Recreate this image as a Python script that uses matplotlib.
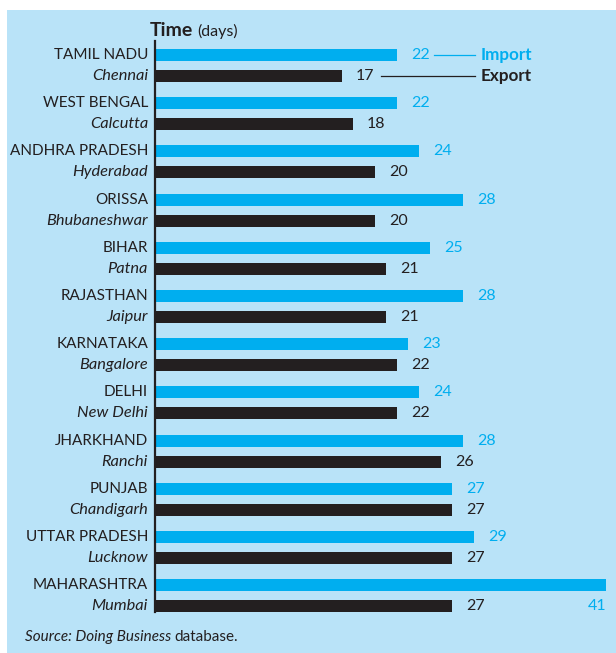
import matplotlib
matplotlib.use("Agg")
import matplotlib.pyplot as plt
from matplotlib.patches import Rectangle

states = ["TAMIL NADU", "WEST BENGAL", "ANDHRA PRADESH", "ORISSA", "BIHAR", "RAJASTHAN",
          "KARNATAKA", "DELHI", "JHARKHAND", "PUNJAB", "UTTAR PRADESH", "MAHARASHTRA"]
cities = ["Chennai", "Calcutta", "Hyderabad", "Bhubaneshwar", "Patna", "Jaipur",
          "Bangalore", "New Delhi", "Ranchi", "Chandigarh", "Lucknow", "Mumbai"]
import_days = [22, 22, 24, 28, 25, 28, 23, 24, 28, 27, 29, 41]
export_days = [17, 18, 20, 20, 21, 21, 22, 22, 26, 27, 27, 27]

BG = "#b9e3f8"
BLUE = "#00aeef"
DARK = "#231f20"
FONT = "Lato"

W, H = 616, 653
fig = plt.figure(figsize=(W / 100, H / 100), dpi=100)
fig.patch.set_facecolor("white")
bgax = fig.add_axes([0, 0, 1, 1], zorder=-5)
bgax.set_axis_off()
bgax.add_patch(Rectangle((7 / W, 0), 1 - 7 / W, 1 - 10 / H, transform=bgax.transAxes,
                         facecolor=BG, edgecolor="none"))

ax_left, ax_right = 155 / W, 1.0
ax_top, ax_bot = 1 - 41 / H, 1 - 612 / H
ax = fig.add_axes([ax_left, ax_bot, ax_right - ax_left, ax_top - ax_bot], zorder=2)
ax.set_facecolor("none")

n = len(states)
off = 0.218
bh = 0.25
yi = [i - off for i in range(n)]
ye = [i + off for i in range(n)]
ax.barh(yi, import_days, height=bh, color=BLUE, zorder=2)
ax.barh(ye, export_days, height=bh, color=DARK, zorder=2)
ax.set_xlim(0, (W - 155) / 11.0)
ax.set_ylim(n - 1 + 0.338, -0.508)
for s in ["top", "right", "bottom"]:
    ax.spines[s].set_visible(False)
ax.spines["left"].set_color(DARK)
ax.spines["left"].set_linewidth(1.6)
ax.set_xticks([])
ax.set_yticks([])

fs = 11
fsv = 11.5
for i in range(n):
    ax.annotate(states[i], (0, yi[i]), xytext=(-5, 0), textcoords="offset points",
                ha="right", va="center", fontsize=fs, color=DARK, family=FONT,
                annotation_clip=False)
    ax.annotate(cities[i], (0, ye[i]), xytext=(-5, 0), textcoords="offset points",
                ha="right", va="center", fontsize=11.8, color=DARK, family=FONT, style="italic",
                annotation_clip=False)
    if i == n - 1:
        ax.annotate(str(import_days[i]), (import_days[i], ye[i]), xytext=(0, 0),
                    textcoords="offset points", ha="right", va="center",
                    fontsize=fsv, color=BLUE, family=FONT)
    else:
        ax.annotate(str(import_days[i]), (import_days[i], yi[i]), xytext=(10, 0),
                    textcoords="offset points", ha="left", va="center",
                    fontsize=fsv, color=BLUE, family=FONT)
    ax.annotate(str(export_days[i]), (export_days[i], ye[i]), xytext=(10, 0),
                textcoords="offset points", ha="left", va="center",
                fontsize=fsv, color=DARK, family=FONT)

# legend keys
xend = (475 - 155) / 11.0
ax.plot([(434 - 155) / 11.0, xend], [yi[0], yi[0]], color=BLUE, lw=0.9)
ax.plot([(381 - 155) / 11.0, xend], [ye[0], ye[0]], color=DARK, lw=0.9)
ax.annotate("Import", (xend, yi[0]), xytext=(4, 0), textcoords="offset points",
            ha="left", va="center", fontsize=12.3, color=BLUE, family=FONT, weight="bold")
ax.annotate("Export", (xend, ye[0]), xytext=(4, 0), textcoords="offset points",
            ha="left", va="center", fontsize=12.3, color=DARK, family=FONT, weight="bold")

# title
t = fig.text(150 / W, 1 - 31 / H, "Time", fontsize=14, weight="bold", color=DARK,
             family=FONT, ha="left", va="center")
fig.canvas.draw()
bb = t.get_window_extent()
fig.text(bb.x1 / W + 4 / W, 1 - 31 / H, "(days)", fontsize=11.5, color=DARK,
         family=FONT, ha="left", va="center")

# source
s = fig.text(25 / W, 1 - 637 / H, "Source: Doing Business", fontsize=11, style="italic",
             color=DARK, family=FONT, ha="left", va="center")
fig.canvas.draw()
bb = s.get_window_extent()
fig.text(bb.x1 / W + 3 / W, 1 - 637 / H, "database.", fontsize=11, color=DARK,
         family=FONT, ha="left", va="center")

fig.savefig("out.png", dpi=100, facecolor=fig.get_facecolor())
